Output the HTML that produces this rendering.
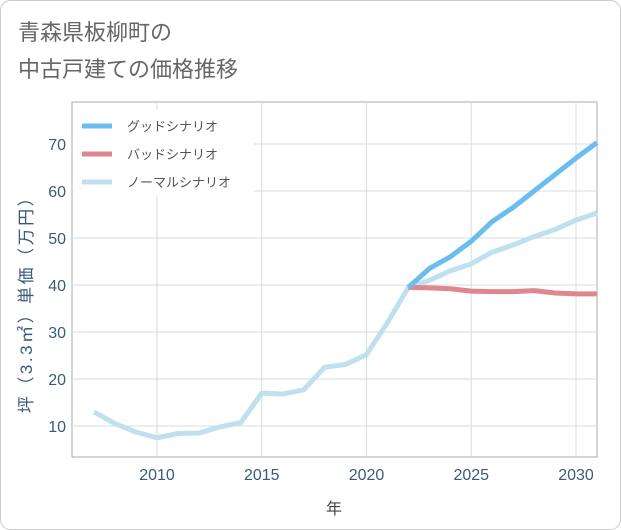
<!DOCTYPE html>
<html><head><meta charset="utf-8"><style>
body{margin:0;background:#fff;}
svg{display:block;font-family:"Liberation Sans","Noto Sans CJK JP",sans-serif;}
</style></head><body>
<svg id="c" width="621" height="530">
<rect x="0.5" y="0.5" width="620" height="529" rx="10" fill="#fff" stroke="#ccc"/>
<text x="18" y="40" font-size="22" fill="#666">青森県板柳町の</text>
<text x="18" y="77" font-size="22" fill="#666">中古戸建ての価格推移</text>
<rect x="72" y="102" width="525" height="355" fill="none" stroke="#aab"/>
<g id="grid"></g><g id="lines"></g><g id="legend"></g>
<text x="334" y="514" font-size="16" fill="#444" text-anchor="middle">年</text>
<text transform="translate(32,300) rotate(-90)" font-size="17" letter-spacing="2.5" fill="#3b5a7a" text-anchor="middle">坪（3.3㎡）単価（万円）</text>
</svg>
<script>
const years=[2007,2008,2009,2010,2011,2012,2013,2014,2015,2016,2017,2018,2019,2020,2021,2022,2023,2024,2025,2026,2027,2028,2029,2030,2031];
const normal=[13,10.5,8.7,7.5,8.4,8.5,9.8,10.7,17,16.8,17.7,22.5,23.1,25.2,32,39.5,41,43,44.5,47,48.5,50.3,51.8,53.8,55.3];
const goodYears=[2022,2023,2024,2025,2026,2027,2028,2029,2030,2031];
const good=[39.5,43.5,46,49.3,53.5,56.5,60,63.5,67,70.3];
const bad=[39.5,39.4,39.2,38.7,38.6,38.6,38.8,38.3,38.1,38.1];
const xTicks=[2010,2015,2020,2025,2030];
const yTicks=[10,20,30,40,50,60,70];
const X=y=>157+(y-2010)*20.95;
const Y=v=>285-(v-40)*4.7;
const NS="http://www.w3.org/2000/svg";
function mk(t,a,p){const e=document.createElementNS(NS,t);for(const k in a)e.setAttribute(k,a[k]);p.appendChild(e);return e;}
const g=document.getElementById('grid');
xTicks.forEach(t=>{
const l=mk('line',{x1:X(t),x2:X(t),y1:102,y2:457,stroke:'#d5dde5'},g);


const s=mk('text',{x:X(t),y:480,'font-size':16,fill:'#3b5a7a','text-anchor':'middle'},g);s.textContent=t;


});
yTicks.forEach(t=>{
const l=mk('line',{x1:72,x2:597,y1:Y(t),y2:Y(t),stroke:'#d5dde5'},g);


const s=mk('text',{x:66,y:Y(t)+6,'font-size':16,fill:'#3b5a7a','text-anchor':'end'},g);s.textContent=t;


});
const L=document.getElementById('lines');
function line(xs,vs,c,n){const p=mk('polyline',{points:xs.map((y,i)=>X(y)+','+Y(vs[i])).join(' '),fill:'none',stroke:c,'stroke-width':5,'stroke-linejoin':'round'},L);

}
line(years,normal,'#bfe0ee','normal-line');
line(goodYears,bad,'#e0868e','bad-line');
line(goodYears,good,'#6bbdf0','good-line');
const lg=document.getElementById('legend');
const bg=mk('rect',{x:74,y:110,width:180,height:86,fill:'#fff'},lg);


[['グッドシナリオ','#6bbdf0'],['バッドシナリオ','#e0868e'],['ノーマルシナリオ','#bfe0ee']].forEach((d,i)=>{
const y=126+i*28;
const r=mk('line',{x1:82,x2:112,y1:y,y2:y,stroke:d[1],'stroke-width':5},lg);


const t=mk('text',{x:127,y:y+5,'font-size':13,fill:'#555'},lg);t.textContent=d[0];


});
</script>
</body></html>
